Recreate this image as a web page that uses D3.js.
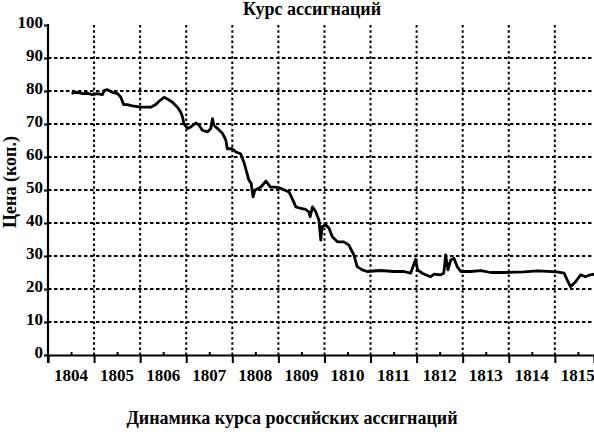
<!DOCTYPE html>
<html>
<head>
<meta charset="utf-8">
<script src="https://cdn.jsdelivr.net/npm/d3@7"></script>
<style>
  body { margin: 0; background: #fff; }
  svg text { font-family: "Liberation Serif", "Times New Roman", serif; font-weight: bold; fill: #000; }
</style>
</head>
<body>
<div id="chart"></div>
<script>
// Курс ассигнаций, 1804-1815 (цена рубля ассигнациями в копейках серебром)

// time points, in fractional years
var timePoints = [1804.51, 1804.57, 1804.64, 1804.75, 1804.86, 1804.97, 1805.07, 1805.18, 1805.22, 1805.29,
  1805.40, 1805.51, 1805.58, 1805.64, 1805.72, 1805.83, 1806.01, 1806.23, 1806.34, 1806.41,
  1806.52, 1806.59, 1806.70, 1806.81, 1806.88, 1806.92, 1806.95, 1807.03, 1807.10, 1807.21,
  1807.28, 1807.35, 1807.46, 1807.53, 1807.57, 1807.60, 1807.68, 1807.79, 1807.86, 1807.89,
  1808.00, 1808.08, 1808.18, 1808.25, 1808.31, 1808.36, 1808.41, 1808.45, 1808.49, 1808.62,
  1808.73, 1808.83, 1808.94, 1809.05, 1809.23, 1809.30, 1809.38, 1809.49, 1809.59, 1809.66,
  1809.69, 1809.74, 1809.81, 1809.88, 1809.92, 1809.95, 1810.03, 1810.10, 1810.17, 1810.28,
  1810.42, 1810.53, 1810.64, 1810.71, 1810.82, 1810.93, 1811.22, 1811.51, 1811.72, 1811.87,
  1811.98, 1812.02, 1812.12, 1812.30, 1812.38, 1812.52, 1812.59, 1812.63, 1812.68, 1812.74,
  1812.81, 1812.88, 1812.96, 1813.17, 1813.39, 1813.61, 1813.89, 1814.33, 1814.62, 1815.05,
  1815.20, 1815.27, 1815.34, 1815.45, 1815.56, 1815.66, 1815.77, 1815.86];

// price in kopecks
var prices = [79.3, 79.5, 79.6, 79.2, 79.3, 78.9, 79.2, 78.9, 80.2, 80.4,
  79.6, 79.2, 78.1, 75.9, 75.9, 75.5, 75.1, 75.1, 75.9, 76.9,
  78.1, 77.6, 76.6, 75.1, 73.6, 72.1, 70.1, 68.6, 69.1, 70.3,
  69.6, 68.1, 67.6, 68.6, 71.6, 69.6, 68.6, 67.1, 65.1, 62.5,
  62.5, 61.5, 61.0, 58.5, 55.5, 53.0, 52.0, 47.9, 49.9, 50.9,
  52.7, 50.9, 50.9, 50.5, 49.4, 47.4, 44.9, 44.4, 44.1, 43.4,
  41.9, 44.9, 43.4, 40.9, 34.8, 38.9, 39.4, 38.4, 35.8, 34.3,
  34.3, 33.3, 30.3, 26.8, 25.8, 25.3, 25.6, 25.3, 25.3, 24.8,
  29.0, 25.8, 24.8, 23.7, 24.5, 24.3, 24.8, 30.3, 25.8, 28.8,
  29.3, 26.8, 25.3, 25.3, 25.6, 25.0, 25.0, 25.2, 25.5, 25.2,
  24.8, 22.7, 20.7, 22.2, 24.3, 23.7, 24.3, 24.5];

var yearLabels = ["1804", "1805", "1806", "1807", "1808", "1809", "1810", "1811", "1812", "1813", "1814", "1815"];
var yTicks = [0, 10, 20, 30, 40, 50, 60, 70, 80, 90, 100];
var yGrid = [10, 20, 30, 40, 50, 60, 70, 80, 90];

var chartTitle = "Курс ассигнаций";
var yTitle = "Цена (коп.)";
var caption = "Динамика курса российских ассигнаций";

(function(){
  var width = 594, height = 434;
  var left = 48, top = 25, bottom = 355;

  var svg = d3.select("#chart").append("svg")
    .attr("width", width)
    .attr("height", height);

  var firstYear = +yearLabels[0];
  var x = d3.scaleLinear()
    .domain([firstYear, 1815.85])
    .range([left, width]);

  var y = d3.scaleLinear()
    .domain([0, 100])
    .range([bottom, top]);

  var yearStarts = yearLabels.map(function(d){ return +d; });
  var boundaries = yearStarts.slice(1); // 1805..1815

  //horizontal dashed grid
  svg.append("g").selectAll("line")
    .data(yGrid)
    .enter().append("line")
    .attr("x1", left).attr("x2", width)
    .attr("y1", function(d){ return y(d); })
    .attr("y2", function(d){ return y(d); })
    .attr("stroke", "#000")
    .attr("stroke-width", 1.8)
    .attr("stroke-dasharray", "3.5,2.5");

  //vertical dotted grid at year boundaries
  svg.append("g").selectAll("line")
    .data(boundaries)
    .enter().append("line")
    .attr("x1", function(d){ return x(d); })
    .attr("x2", function(d){ return x(d); })
    .attr("y1", y(100))
    .attr("y2", y(0))
    .attr("stroke", "#000")
    .attr("stroke-width", 2)
    .attr("stroke-dasharray", "2.5,2.7");

  //x axis: major ticks down at year boundaries
  var xAxis = d3.axisBottom(x)
    .tickValues(boundaries)
    .tickSize(8)
    .tickFormat("");
  var gx = svg.append("g")
    .attr("transform", "translate(0," + bottom + ")")
    .call(xAxis);
  gx.select(".domain").attr("stroke-width", 2.2);
  gx.selectAll(".tick line").attr("stroke-width", 2);

  //minor ticks up at mid year
  var minor = d3.axisTop(x)
    .tickValues(yearStarts.map(function(d){ return d + 0.5; }))
    .tickSize(3)
    .tickFormat("");
  var gm = svg.append("g")
    .attr("transform", "translate(0," + bottom + ")")
    .call(minor);
  gm.select(".domain").remove();
  gm.selectAll(".tick line").attr("stroke-width", 2);

  //year labels centred in each year
  svg.append("g").selectAll("text")
    .data(yearLabels)
    .enter().append("text")
    .attr("x", function(d){ return x(+d + 0.5); })
    .attr("y", 381)
    .attr("text-anchor", "middle")
    .attr("font-size", 17)
    .text(function(d){ return d; });

  //y axis
  var yAxis = d3.axisLeft(y)
    .tickValues(yTicks)
    .tickSize(4)
    .tickPadding(1)
    .tickFormat(d3.format("d"));
  var gy = svg.append("g")
    .attr("transform", "translate(" + left + ",0)")
    .call(yAxis);
  gy.select(".domain").remove();
  gy.selectAll(".tick line").attr("stroke-width", 2);
  gy.selectAll(".tick text")
    .attr("font-size", 17)
    .attr("font-family", null)
    .attr("dy", "0.15em");

  svg.append("line")
    .attr("x1", left).attr("x2", left)
    .attr("y1", y(100) - 1).attr("y2", bottom + 8)
    .attr("stroke", "#000")
    .attr("stroke-width", 2.2);

  //price line
  var line = d3.line()
    .x(function(d, i){ return x(timePoints[i]); })
    .y(function(d){ return y(d); });

  svg.append("path")
    .datum(prices)
    .attr("d", line)
    .attr("fill", "none")
    .attr("stroke", "#000")
    .attr("stroke-width", 2.8)
    .attr("stroke-linejoin", "round");

  //titles
  svg.append("text")
    .attr("x", 312).attr("y", 15)
    .attr("text-anchor", "middle")
    .attr("font-size", 18)
    .text(chartTitle);

  svg.append("text")
    .attr("transform", "translate(16,182) rotate(-90)")
    .attr("text-anchor", "middle")
    .attr("font-size", 18)
    .text(yTitle);

  svg.append("text")
    .attr("x", 292).attr("y", 424)
    .attr("text-anchor", "middle")
    .attr("font-size", 18)
    .text(caption);
})();
</script>
</body>
</html>
